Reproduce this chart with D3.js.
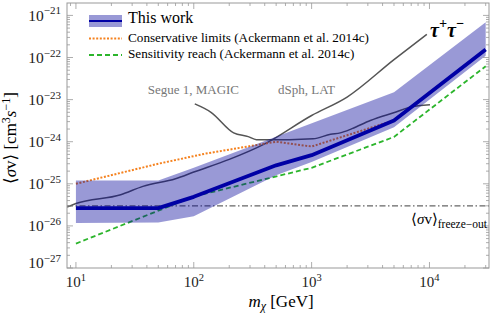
<!DOCTYPE html>
<html>
<head>
<meta charset="utf-8">
<script src="https://cdn.jsdelivr.net/npm/d3@7"></script>
<style>
  body { margin: 0; background: #fff; }
  svg { font-family: "Liberation Serif", "DejaVu Serif", serif; }
</style>
</head>
<body>
<div id="chart"></div>
<script>
// ---- data ----
var thisWorkMass = [10, 50, 100, 500, 1000, 5000, 30000];
var thisWork     = [2.65e-26, 2.65e-26, 4.9e-26, 2.75e-25, 4.8e-25, 3.2e-24, 1.55e-22];

var bandUpperMass = [10, 50, 100, 5000, 30000];
var bandUpper     = [1.2e-25, 1.2e-25, 2.4e-25, 1.5e-23, 6.9e-22];
var bandLowerMass = [10, 50, 100, 500, 1000, 5000, 30000];
var bandLower     = [1.18e-26, 1.2e-26, 1.7e-26, 1.6e-25, 3.3e-25, 2.2e-24, 1.1e-22];

var consMass = [10, 50, 125, 500, 1000, 5000];
var cons     = [1e-25, 3e-25, 5.2e-25, 1e-24, 7.7e-25, 3.2e-24];

var sensMass = [10, 100, 1000, 5000, 30000];
var sens     = [3.8e-27, 5e-26, 2.4e-25, 1.3e-24, 6.2e-23];

var latMass = [8.4, 10, 24, 37, 70, 100, 200, 400, 1000, 2000, 5000, 9500];
var lat     = [2.8e-26, 3.4e-26, 5.5e-26, 8.7e-26, 1.32e-25, 1.9e-25, 3.8e-25, 8.9e-25, 4.2e-24, 1.15e-23, 8.9e-23, 3.55e-22];

var magicMass = [102, 140, 218, 290, 340, 650, 1030, 1450, 1750, 2200, 3150, 5200, 6800, 10100];
var magic     = [7.9e-24, 5e-24, 1.62e-24, 1.32e-24, 1.12e-24, 1.12e-24, 1.17e-24, 1.5e-24, 1.62e-24, 2.04e-24, 3.2e-24, 5.1e-24, 6.6e-24, 7.6e-24];

var freezeOut = [3e-26];

var xTickValues = [10, 100, 1000, 10000];
var xTickExp    = ["1", "2", "3", "4"];
var yTickValues = [1e-27, 1e-26, 1e-25, 1e-24, 1e-23, 1e-22, 1e-21];
var yTickExp    = ["\u221227", "\u221226", "\u221225", "\u221224", "\u221223", "\u221222", "\u221221"];

var legendNames = ["This work", "Conservative limits (Ackermann et al. 2014c)", "Sensitivity reach (Ackermann et al. 2014c)"];

// ---- layout ----
var width = 499, height = 317;
var margin = {top: 3, right: 10, bottom: 49, left: 67};

var svg = d3.select("#chart").append("svg")
    .attr("width", width)
    .attr("height", height);

var x = d3.scaleLog().domain([8.4, 32000]).range([margin.left, width - margin.right]);
var y = d3.scaleLog().domain([1e-27, Math.pow(10, -20.705)]).range([height - margin.bottom, margin.top]);

var x0 = margin.left, x1 = width - margin.right, y0 = height - margin.bottom, y1 = margin.top;

svg.append("clipPath").attr("id", "plotclip")
    .append("rect").attr("x", x0).attr("y", y1).attr("width", x1 - x0).attr("height", y0 - y1);

var plot = svg.append("g").attr("clip-path", "url(#plotclip)");

function zipped(xs, ys) { return xs.map(function (m, i) { return [m, ys[i]]; }); }

var line = d3.line().x(function (d) { return x(d[0]); }).y(function (d) { return y(d[1]); });
var smooth = d3.line().curve(d3.curveMonotoneX).x(function (d) { return x(d[0]); }).y(function (d) { return y(d[1]); });

var BAND = "rgb(0,0,153)";
var BLUE = "rgb(0,0,165)";
var ORANGE = "#f5821f";
var GREEN = "#2cb52c";
var GRAY = "#555";

// gray literature curves
plot.append("path").attr("d", smooth(zipped(latMass, lat)))
    .attr("fill", "none").attr("stroke", GRAY).attr("stroke-width", 1.5);
plot.append("path").attr("d", smooth(zipped(magicMass, magic)))
    .attr("fill", "none").attr("stroke", GRAY).attr("stroke-width", 1.5);

// conservative limits (dotted)
plot.append("path").attr("d", line(zipped(consMass, cons)))
    .attr("fill", "none").attr("stroke", ORANGE).attr("stroke-width", 2)
    .attr("stroke-dasharray", "2,1.6");

// sensitivity reach (dashed)
plot.append("path").attr("d", line(zipped(sensMass, sens)))
    .attr("fill", "none").attr("stroke", GREEN).attr("stroke-width", 1.8)
    .attr("stroke-dasharray", "5,3");

// freeze-out
plot.append("line")
    .attr("x1", x0).attr("x2", x1)
    .attr("y1", y(freezeOut[0])).attr("y2", y(freezeOut[0]))
    .attr("stroke", "#666").attr("stroke-width", 1.2)
    .attr("stroke-dasharray", "6,2.5,1.5,2.5");

// band (drawn over the other curves, semi-transparent)
var upper = zipped(bandUpperMass, bandUpper);
var lower = zipped(bandLowerMass, bandLower).reverse();
plot.append("path")
    .attr("d", line(upper.concat(lower)) + "Z")
    .attr("fill", BAND).attr("fill-opacity", 0.4).attr("stroke", "none");

// this work
plot.append("path").attr("d", line(zipped(thisWorkMass, thisWork)))
    .attr("fill", "none").attr("stroke", BLUE).attr("stroke-width", 3.8)
    .attr("stroke-linejoin", "round");

// ---- frame and ticks ----
var FRAME = "#999";
svg.append("rect").attr("x", x0).attr("y", y1).attr("width", x1 - x0).attr("height", y0 - y1)
    .attr("fill", "none").attr("stroke", FRAME).attr("stroke-width", 1);

function isMajor(v) { var l = Math.log10(v); return Math.abs(l - Math.round(l)) < 1e-6; }

var ticks = svg.append("g").attr("stroke", FRAME).attr("stroke-width", 0.8);
x.ticks().forEach(function (v) {
    var px = x(v), len = isMajor(v) ? 6 : 3;
    ticks.append("line").attr("x1", px).attr("x2", px).attr("y1", y0).attr("y2", y0 - len);
    ticks.append("line").attr("x1", px).attr("x2", px).attr("y1", y1).attr("y2", y1 + len);
});
y.ticks().forEach(function (v) {
    var py = y(v), len = isMajor(v) ? 6 : 3;
    ticks.append("line").attr("x1", x0).attr("x2", x0 + len).attr("y1", py).attr("y2", py);
    ticks.append("line").attr("x1", x1).attr("x2", x1 - len).attr("y1", py).attr("y2", py);
});

// tick labels
xTickValues.forEach(function (v, i) {
    var t = svg.append("text").attr("x", x(v)).attr("y", 287)
        .attr("text-anchor", "middle").attr("font-size", 15).attr("fill", "#222");
    t.append("tspan").text("10");
    t.append("tspan").attr("dy", -6).attr("font-size", 10.5).text(xTickExp[i]);
});
yTickValues.forEach(function (v, i) {
    var base = i === 0 ? y(v) : y(v) + 5.5;
    var t = svg.append("text").attr("x", 61).attr("y", base)
        .attr("text-anchor", "end").attr("font-size", 15.5).attr("fill", "#222");
    t.append("tspan").text("10");
    t.append("tspan").attr("dy", -6.5).attr("font-size", 11).text(yTickExp[i]);
});

// axis titles
var xt = svg.append("text").attr("x", 281).attr("y", 306.5)
    .attr("text-anchor", "middle").attr("font-size", 17);
xt.append("tspan").attr("font-style", "italic").text("m");
xt.append("tspan").attr("font-style", "italic").attr("font-size", 12).attr("dy", 3).text("\u03c7");
xt.append("tspan").attr("dy", -3).text(" [GeV]");

var yt = svg.append("text").attr("transform", "translate(16,138) rotate(-90)")
    .attr("text-anchor", "middle").attr("font-size", 17);
yt.append("tspan").text("\u27e8");
yt.append("tspan").attr("font-style", "italic").text("\u03c3");
yt.append("tspan").text("v\u27e9 [cm");
yt.append("tspan").attr("font-size", 12).attr("dy", -6).text("3");
yt.append("tspan").attr("font-style", "italic").attr("dy", 6).text("s");
yt.append("tspan").attr("font-size", 12).attr("dy", -6).text("\u22121");
yt.append("tspan").attr("dy", 6).text("]");

// ---- legend ----
var legend = svg.append("g");
legend.append("rect").attr("x", 89).attr("y", 15).attr("width", 33).attr("height", 12)
    .attr("fill", BAND).attr("fill-opacity", 0.4);
legend.append("line").attr("x1", 89).attr("x2", 122).attr("y1", 21).attr("y2", 21)
    .attr("stroke", BLUE).attr("stroke-width", 2);
legend.append("text").attr("x", 128).attr("y", 23).attr("font-size", 16).text(legendNames[0]);

legend.append("line").attr("x1", 89).attr("x2", 122).attr("y1", 38.5).attr("y2", 38.5)
    .attr("stroke", ORANGE).attr("stroke-width", 2).attr("stroke-dasharray", "2,1.6");
legend.append("text").attr("x", 128).attr("y", 41.5).attr("font-size", 13.2).text(legendNames[1]);

legend.append("line").attr("x1", 89).attr("x2", 122).attr("y1", 55).attr("y2", 55)
    .attr("stroke", GREEN).attr("stroke-width", 1.8).attr("stroke-dasharray", "5,3");
legend.append("text").attr("x", 128).attr("y", 58).attr("font-size", 13.2).text(legendNames[2]);

// ---- annotations ----
svg.append("text").attr("x", 147.7).attr("y", 94).attr("font-size", 13)
    .attr("fill", "#777").text("Segue 1, MAGIC");
svg.append("text").attr("x", 278).attr("y", 94).attr("font-size", 13)
    .attr("fill", "#777").text("dSph, LAT");

var tau = svg.append("text").attr("x", 430).attr("y", 37)
    .attr("font-size", 20).attr("font-weight", "bold").attr("font-style", "italic");
tau.append("tspan").text("\u03c4");
tau.append("tspan").attr("font-size", 14).attr("dy", -9).text("+");
tau.append("tspan").attr("dy", 9).text("\u03c4");
tau.append("tspan").attr("font-size", 14).attr("dy", -9).text("\u2212");

var fo = svg.append("text").attr("x", 487).attr("y", 224)
    .attr("text-anchor", "end").attr("font-size", 15);
fo.append("tspan").text("\u27e8");
fo.append("tspan").attr("font-style", "italic").text("\u03c3");
fo.append("tspan").text("v\u27e9");
fo.append("tspan").attr("font-size", 11.5).attr("dy", 4).text("freeze\u2212out");
</script>
</body>
</html>
